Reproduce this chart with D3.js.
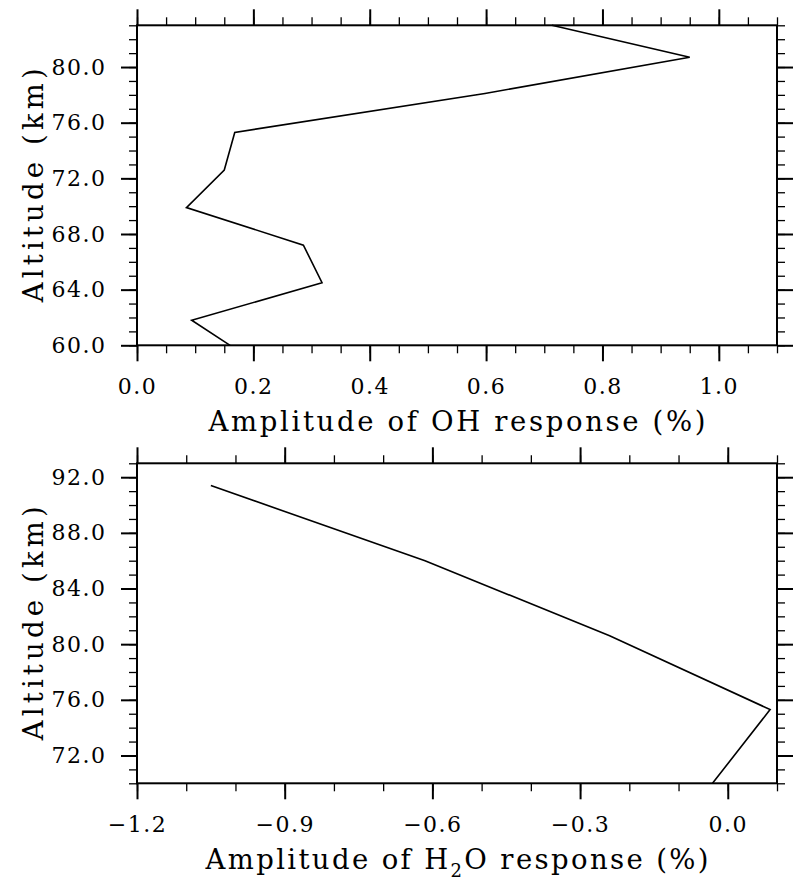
<!DOCTYPE html>
<html>
<head>
<meta charset="utf-8">
<script src="https://cdn.jsdelivr.net/npm/d3@7"></script>
<style>
  body { margin: 0; background: #fff; }
  svg text { font-family: "DejaVu Serif", serif; fill: #000; }
</style>
</head>
<body>
<div id="chart"></div>
<script>
// OH panel
const ohAmp = [0.713, 0.950, 0.598, 0.168, 0.150, 0.085, 0.286, 0.318, 0.094, 0.160];
const ohAlt = [83.0, 80.7, 78.1, 75.3, 72.6, 69.9, 67.2, 64.5, 61.8, 60.0];
const ohXTicks = [0.0, 0.2, 0.4, 0.6, 0.8, 1.0];
const ohYTicks = [60, 64, 68, 72, 76, 80];

// H2O panel
const h2oAmp = [-1.050, -0.615, -0.240, 0.086, -0.031];
const h2oAlt = [91.4, 86.0, 80.6, 75.3, 70.0];
const h2oXTicks = [-1.2, -0.9, -0.6, -0.3, 0.0];
const h2oYTicks = [72, 76, 80, 84, 88, 92];

const width = 795, height = 880;
const svg = d3.select("#chart").append("svg")
    .attr("width", width).attr("height", height);

const left = 137, right = 777, plotH = 320;
const majorLen = 16, minorLen = 8;

function panel(opts) {
    const top = opts.top;
    const x = d3.scaleLinear().domain(opts.xDomain).range([left, right]);
    const y = d3.scaleLinear().domain(opts.yDomain).range([top + plotH, top]);
    const g = svg.append("g");

    // minor ticks
    const minorX = d3.range(opts.xDomain[0], opts.xDomain[1] + 1e-9, opts.xMinor);
    const minorY = d3.range(opts.yDomain[0], opts.yDomain[1] + 1e-9, 1);
    const styleMinor = sel => {
        sel.select(".domain").remove();
        sel.selectAll("line").attr("stroke", "#000").attr("stroke-width", 1.3);
    };
    g.append("g").attr("transform", `translate(0,${top + plotH})`)
        .call(d3.axisBottom(x).tickValues(minorX).tickSize(minorLen).tickFormat("")).call(styleMinor);
    g.append("g").attr("transform", `translate(0,${top})`)
        .call(d3.axisTop(x).tickValues(minorX).tickSize(minorLen).tickFormat("")).call(styleMinor);
    g.append("g").attr("transform", `translate(${left},0)`)
        .call(d3.axisLeft(y).tickValues(minorY).tickSize(minorLen).tickFormat("")).call(styleMinor);
    g.append("g").attr("transform", `translate(${right},0)`)
        .call(d3.axisRight(y).tickValues(minorY).tickSize(minorLen).tickFormat("")).call(styleMinor);

    // major ticks
    const styleMajor = sel => {
        sel.select(".domain").remove();
        sel.selectAll("line").attr("stroke", "#000").attr("stroke-width", 2);
        sel.selectAll("text").attr("font-size", "22px").attr("font-family", "DejaVu Serif")
            .attr("letter-spacing", "1.5px");
    };
    g.append("g").attr("transform", `translate(0,${top + plotH})`)
        .call(d3.axisBottom(x).tickValues(opts.xTicks).tickSize(majorLen).tickPadding(17)
            .tickFormat(d3.format(".1f"))).call(styleMajor);
    g.append("g").attr("transform", `translate(0,${top})`)
        .call(d3.axisTop(x).tickValues(opts.xTicks).tickSize(majorLen).tickFormat("")).call(styleMajor);
    g.append("g").attr("transform", `translate(${left},0)`)
        .call(d3.axisLeft(y).tickValues(opts.yTicks).tickSize(majorLen).tickPadding(14.5)
            .tickFormat(d3.format(".1f"))).call(styleMajor);
    g.append("g").attr("transform", `translate(${right},0)`)
        .call(d3.axisRight(y).tickValues(opts.yTicks).tickSize(majorLen).tickFormat("")).call(styleMajor);

    // box
    g.append("rect")
        .attr("x", left).attr("y", top)
        .attr("width", right - left).attr("height", plotH)
        .attr("fill", "none").attr("stroke", "#000").attr("stroke-width", 2);

    // data line
    const pts = opts.xs.map((v, i) => [v, opts.ys[i]]);
    g.append("path")
        .datum(pts)
        .attr("fill", "none").attr("stroke", "#000").attr("stroke-width", 1.6)
        .attr("stroke-linejoin", "miter")
        .attr("d", d3.line().x(d => x(d[0])).y(d => y(d[1])));

    // titles
    const xt = g.append("text")
        .attr("x", (left + right) / 2).attr("y", top + plotH + 86)
        .attr("text-anchor", "middle").attr("font-size", "27.5px")
        .attr("textLength", opts.xTitleLen).attr("lengthAdjust", "spacing");
    opts.xTitle(xt);

    g.append("text")
        .attr("transform", `translate(43,${top + plotH / 2}) rotate(-90)`)
        .attr("text-anchor", "middle").attr("font-size", "27.5px")
        .attr("textLength", 234).attr("lengthAdjust", "spacing")
        .text("Altitude (km)");
}

panel({
    top: 25.3, xDomain: [0, 1.1], yDomain: [60, 83], xMinor: 0.05,
    xTicks: ohXTicks, yTicks: ohYTicks, xs: ohAmp, ys: ohAlt, xTitleLen: 497,
    xTitle: t => t.text("Amplitude of OH response (%)")
});

panel({
    top: 463.3, xDomain: [-1.2, 0.1], yDomain: [70, 93], xMinor: 0.1,
    xTicks: h2oXTicks, yTicks: h2oYTicks, xs: h2oAmp, ys: h2oAlt, xTitleLen: 503,
    xTitle: t => {
        t.append("tspan").text("Amplitude of H");
        t.append("tspan").attr("font-size", "18px").attr("dy", 8).text("2");
        t.append("tspan").attr("dy", -8).text("O response (%)");
    }
});
</script>
</body>
</html>
